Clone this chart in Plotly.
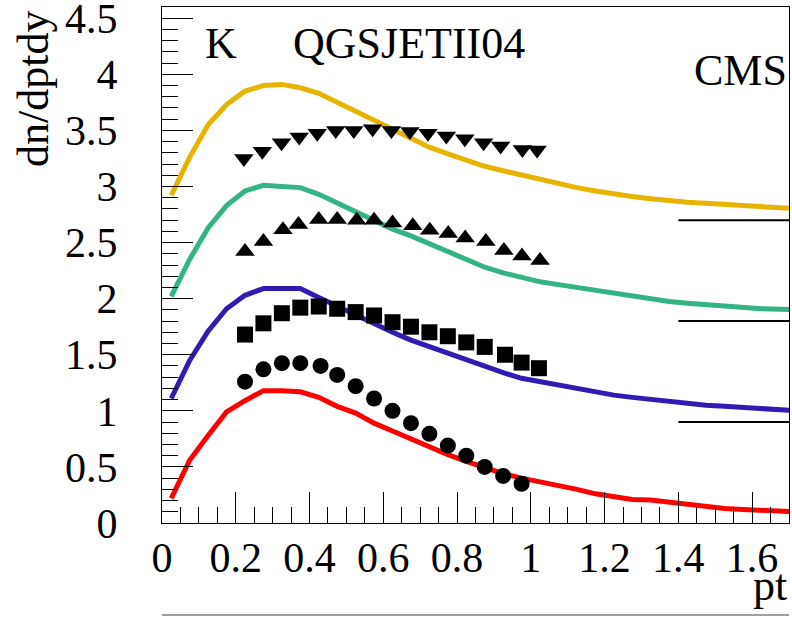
import plotly.graph_objects as go

# ---------------- data ----------------
# model curves (QGSJETII04), pt grid
pt_model = [0.025, 0.075, 0.125, 0.175, 0.225, 0.275, 0.325, 0.375, 0.425, 0.475,
            0.525, 0.575, 0.625, 0.675, 0.725, 0.775, 0.825, 0.875, 0.925, 0.975,
            1.025, 1.075, 1.125, 1.175, 1.225, 1.275, 1.325, 1.375, 1.425, 1.475,
            1.525, 1.575, 1.625, 1.675, 1.725]
model_red = [0.22, 0.56, 0.78, 0.99, 1.09, 1.18, 1.18, 1.17, 1.12, 1.04,
             0.98, 0.89, 0.82, 0.75, 0.67, 0.61, 0.55, 0.49, 0.44, 0.40,
             0.37, 0.33, 0.30, 0.26, 0.24, 0.21, 0.205, 0.185, 0.165, 0.15,
             0.13, 0.12, 0.11, 0.105, 0.10]
model_blue = [1.11, 1.45, 1.71, 1.91, 2.03, 2.09, 2.09, 2.09, 2.01, 1.93,
              1.85, 1.77, 1.70, 1.63, 1.57, 1.51, 1.46, 1.39, 1.34, 1.29,
              1.26, 1.22, 1.19, 1.16, 1.14, 1.12, 1.10, 1.08, 1.06, 1.05,
              1.04, 1.03, 1.02, 1.01, 1.00]
model_green = [2.02, 2.35, 2.63, 2.83, 2.96, 3.01, 3.00, 2.99, 2.93, 2.85,
               2.78, 2.69, 2.62, 2.56, 2.49, 2.42, 2.34, 2.28, 2.23, 2.19,
               2.15, 2.125, 2.10, 2.07, 2.04, 2.02, 2.00, 1.975, 1.96, 1.945,
               1.93, 1.92, 1.91, 1.905, 1.90]
model_orange = [2.92, 3.26, 3.55, 3.73, 3.85, 3.90, 3.91, 3.88, 3.83, 3.75,
                3.66, 3.58, 3.50, 3.42, 3.35, 3.29, 3.23, 3.18, 3.14, 3.10,
                3.06, 3.03, 2.99, 2.96, 2.93, 2.91, 2.89, 2.87, 2.86, 2.85,
                2.84, 2.83, 2.82, 2.81, 2.80]

# CMS data points
pt_circles = [0.225, 0.275, 0.325, 0.375, 0.43, 0.475, 0.525, 0.575, 0.625, 0.675,
              0.725, 0.775, 0.825, 0.875, 0.925, 0.975]
cms_circles = [1.26, 1.37, 1.425, 1.425, 1.40, 1.32, 1.22, 1.11, 1.00, 0.89,
               0.795, 0.69, 0.60, 0.50, 0.42, 0.35]
pt_squares = [0.225, 0.275, 0.325, 0.375, 0.425, 0.475, 0.525, 0.575, 0.625, 0.675,
              0.725, 0.775, 0.825, 0.875, 0.93, 0.975, 1.022]
cms_squares = [1.68, 1.78, 1.87, 1.92, 1.93, 1.91, 1.88, 1.85, 1.79, 1.75,
               1.70, 1.665, 1.61, 1.57, 1.50, 1.43, 1.38]
pt_tri_up = [0.225, 0.275, 0.328, 0.37, 0.425, 0.475, 0.528, 0.575, 0.625, 0.68,
             0.726, 0.776, 0.822, 0.878, 0.927, 0.976, 1.025]
cms_tri_up = [2.42, 2.51, 2.615, 2.66, 2.705, 2.705, 2.70, 2.70, 2.675, 2.65,
              2.61, 2.58, 2.54, 2.51, 2.43, 2.38, 2.34]
pt_tri_down = [0.222, 0.272, 0.324, 0.372, 0.421, 0.471, 0.52, 0.571, 0.622, 0.672,
               0.721, 0.771, 0.821, 0.872, 0.918, 0.977, 1.017]
cms_tri_down = [3.25, 3.315, 3.39, 3.44, 3.475, 3.50, 3.50, 3.515, 3.50, 3.49,
                3.475, 3.45, 3.425, 3.39, 3.36, 3.33, 3.325]

# offset reference levels
offset_levels = [0.9, 1.8, 2.7]
offset_pt = [1.4, 1.7]

x_ticks = [0, 0.2, 0.4, 0.6, 0.8, 1, 1.2, 1.4, 1.6]
x_ticklabels = ["0", "0.2", "0.4", "0.6", "0.8", "1", "1.2", "1.4", "1.6"]
y_ticks = [0, 0.5, 1, 1.5, 2, 2.5, 3, 3.5, 4, 4.5]
y_ticklabels = ["0", "0.5", "1", "1.5", "2", "2.5", "3", "3.5", "4", "4.5"]

FONT = "Liberation Serif"

fig = go.Figure()

for yv, col in [(model_red, "rgb(255,0,0)"), (model_blue, "rgb(48,28,178)"),
                (model_green, "rgb(52,180,130)"), (model_orange, "rgb(230,180,0)")]:
    fig.add_trace(go.Scatter(x=pt_model, y=yv, mode="lines",
                             line=dict(color=col, width=5), showlegend=False,
                             hoverinfo="skip"))

for lvl in offset_levels:
    fig.add_trace(go.Scatter(x=offset_pt, y=[lvl, lvl], mode="lines",
                             line=dict(color="black", width=2), showlegend=False,
                             hoverinfo="skip"))

for xs, ys, sym, sz in [(pt_circles, cms_circles, "circle", 16),
                        (pt_squares, cms_squares, "square", 16),
                        (pt_tri_up, cms_tri_up, "triangle-up", 17),
                        (pt_tri_down, cms_tri_down, "triangle-down", 17)]:
    fig.add_trace(go.Scatter(x=xs, y=ys, mode="markers",
                             marker=dict(symbol=sym, size=sz, color="black",
                                         line=dict(width=0)),
                             showlegend=False))

L, R, T, B = 162, 3, 7, 94
W, H = 792, 617
pw, ph = W - L - R, H - T - B

def px(xp):
    return (xp - L) / pw

def py(yp):
    return (H - B - yp) / ph

fig.update_layout(
    template="none",
    width=W, height=H, autosize=False,
    margin=dict(l=L, r=R, t=T, b=B, pad=0, autoexpand=False),
    plot_bgcolor="white", paper_bgcolor="white",
    font=dict(family=FONT, color="black"),
    xaxis=dict(range=[0, 1.7], showgrid=False, zeroline=False, automargin=False,
               showline=True, mirror=True, linecolor="black", linewidth=1,
               ticks="inside", ticklen=31, tickcolor="black", tickwidth=1,
               tickvals=x_ticks, ticktext=x_ticklabels,
               tickfont=dict(family=FONT, size=42, color="black"),
               ticklabelstandoff=-2, ticklabeloverflow="allow",
               minor=dict(dtick=0.05, tick0=0, ticks="inside", ticklen=16,
                          tickcolor="black", tickwidth=1, showgrid=False)),
    yaxis=dict(range=[0, 4.6], showgrid=False, zeroline=False, automargin=False,
               showline=True, mirror=True, linecolor="black", linewidth=1,
               ticks="inside", ticklen=31, tickcolor="black", tickwidth=1,
               tickvals=y_ticks, ticktext=y_ticklabels,
               tickfont=dict(family=FONT, size=42, color="black"),
               ticklabelstandoff=35, ticklabeloverflow="allow",
               minor=dict(dtick=0.1, tick0=0, ticks="inside", ticklen=16,
                          tickcolor="black", tickwidth=1, showgrid=False)),
    shapes=[dict(type="line", xref="paper", yref="paper", x0=0, x1=1,
                 y0=py(615), y1=py(615), line=dict(color="gray", width=1.5))],
    annotations=[
        dict(text="K", xref="paper", yref="paper", x=px(203), y=py(43),
             xanchor="left", yanchor="middle", showarrow=False,
             font=dict(family=FONT, size=44)),
        dict(text="QGSJETII04", xref="paper", yref="paper", x=px(291), y=py(43),
             xanchor="left", yanchor="middle", showarrow=False,
             font=dict(family=FONT, size=44)),
        dict(text="CMS", xref="paper", yref="paper", x=px(789), y=py(70),
             xanchor="right", yanchor="middle", showarrow=False,
             font=dict(family=FONT, size=44)),
        dict(text="dn/dptdy", xref="paper", yref="paper", x=px(34), y=py(89),
             xanchor="center", yanchor="middle", textangle=-90, showarrow=False,
             font=dict(family=FONT, size=44)),
        dict(text="pt", xref="paper", yref="paper", x=px(789), y=py(585),
             xanchor="right", yanchor="middle", showarrow=False,
             font=dict(family=FONT, size=44)),
    ],
)

fig.write_html("out.html", config={"displayModeBar": False},
               post_script="document.body.style.margin='0px';document.body.style.overflow='hidden';")
